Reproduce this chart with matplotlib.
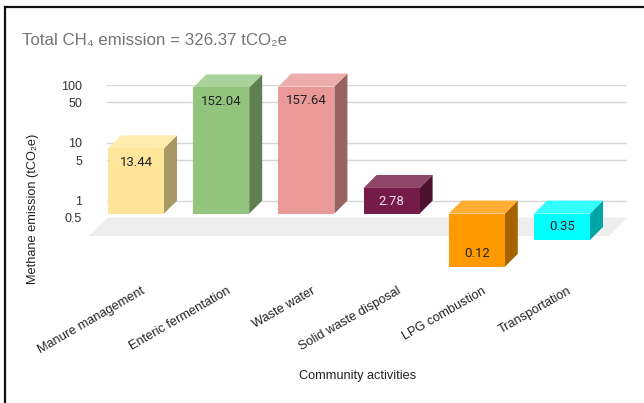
import matplotlib

matplotlib.use("Agg")
import matplotlib.pyplot as plt
import matplotlib.transforms as mtransforms
from matplotlib.lines import Line2D
from matplotlib.patches import Polygon
import numpy as np

plt.rcParams["font.family"] = ["Liberation Sans", "DejaVu Sans"]

# ── Data ──────────────────────────────────────────────────────────────────────
activities = [
    "Manure management",
    "Enteric fermentation",
    "Waste water",
    "Solid waste disposal",
    "LPG combustion",
    "Transportation",
]
emissions = [13.44, 152.04, 157.64, 2.78, 0.12, 0.35]
value_labels = ["13.44", "152.04", "157.64", "2.78", "0.12", "0.35"]
ytick_vals = [0.5, 1, 5, 10, 50, 100]
ytick_labels = ["0.5", "1", "5", "10", "50", "100"]

front_cols = ["#FFE599", "#93C47D", "#EA9999", "#741B47", "#FF9900", "#00FFFF"]
top_cols = ["#FFEBAD", "#A9D19A", "#EEADAD", "#8F4769", "#FFAD33", "#33FFFF"]
side_cols = ["#A89866", "#5E7F4F", "#996363", "#4C112F", "#A66300", "#00A6A6"]
label_cols = ["#222222", "#222222", "#222222", "#F0DDE6", "#222222", "#222222"]

BASE = 1.0
DEPTH = 13  # px, bar depth
FLOOR_DEPTH = 18  # px

# ── Figure ────────────────────────────────────────────────────────────────────
fig = plt.figure(figsize=(6.44, 4.03), dpi=100)
fig.patch.set_facecolor("white")
W, H = 644, 403
ax = fig.add_axes([107 / W, 1 - 218 / H, 520 / W, 133 / H])
ax.set_yscale("log")
ax.set_xlim(-0.493, 5.61)
ax.set_ylim(0.5, 100)
ax.set_facecolor("none")

bbox = ax.get_window_extent()
px_x = bbox.width / (5.61 + 0.493)
px_dec = bbox.height / np.log10(100 / 0.5)
dxd = DEPTH / px_x
fy = 10 ** (DEPTH / px_dec)

# floor
fdx = FLOOR_DEPTH / px_x
ffy = 10 ** (FLOOR_DEPTH / px_dec)
x0, x1 = ax.get_xlim()
floor = Polygon(
    [(x0, 0.5), (x1, 0.5), (x1 - fdx, 0.5 / ffy), (x0 - fdx, 0.5 / ffy)],
    closed=True, facecolor="#EEEEEE", edgecolor="none", clip_on=False, zorder=1,
)
ax.add_patch(floor)

half = 0.3285
for i, v in enumerate(emissions):
    top = max(v, BASE)
    bot = min(v, BASE)
    l, r = i - half, i + half
    front = [(l - dxd, bot / fy), (r - dxd, bot / fy), (r - dxd, top / fy), (l - dxd, top / fy)]
    topf = [(l - dxd, top / fy), (r - dxd, top / fy), (r, top), (l, top)]
    side = [(r - dxd, bot / fy), (r, bot), (r, top), (r - dxd, top / fy)]
    for pts, c in [(side, side_cols[i]), (topf, top_cols[i]), (front, front_cols[i])]:
        ax.add_patch(Polygon(pts, closed=True, facecolor=c, edgecolor="none",
                             clip_on=False, zorder=3))
    if v >= BASE:
        xy, off = (i - dxd, top / fy), -14
    else:
        xy, off = (i - dxd, bot / fy), 13
    ax.annotate(value_labels[i], xy=xy, xytext=(0, off), textcoords="offset pixels",
                ha="center", va="center", fontsize=9.5, color=label_cols[i],
                family=["Roboto", "DejaVu Sans"], zorder=5, annotation_clip=False)

ax.set_yticks(ytick_vals)
ax.set_yticklabels(ytick_labels)
ax.yaxis.set_minor_locator(matplotlib.ticker.NullLocator())
ax.tick_params(axis="y", length=0, pad=18, labelsize=9, labelcolor="#333333")
ax.set_xticks([])
ax.yaxis.grid(True, color="#D6D6D6", linewidth=1.0, zorder=0)
ax.set_axisbelow(True)
for s in ax.spines.values():
    s.set_visible(False)

# category labels
lab_trans = mtransforms.blended_transform_factory(ax.transData, fig.transFigure) + \
    mtransforms.ScaledTranslation(-8 / fig.dpi, 0, fig.dpi_scale_trans)
for i, name in enumerate(activities):
    ax.text(i, 1 - 285 / H, name, transform=lab_trans, rotation=30,
            rotation_mode="anchor", ha="right", va="top", fontsize=9.2, color="#222222")

fig.text(357.5 / W, 1 - 376 / H, "Community activities", ha="center", va="center",
         fontsize=9.2, color="#222222")
fig.text(33 / W, 1 - 208.5 / H, "Methane emission (tCO\u2082e)", rotation=90,
         ha="center", va="center", fontsize=9.2, color="#222222")
fig.text(22 / W, 1 - 41 / H, "Total CH\u2084 emission = 326.37 tCO\u2082e", ha="left",
         va="center", fontsize=12.2, color="#757575")

# outer border (left and top)
fig.add_artist(Line2D([5 / W, 5 / W], [0, 1 - 7 / H], color="#111111", lw=1.6))
fig.add_artist(Line2D([5 / W, 1], [1 - 7 / H, 1 - 7 / H], color="#111111", lw=1.6))

plt.savefig("out.png", dpi=100, facecolor=fig.get_facecolor())
